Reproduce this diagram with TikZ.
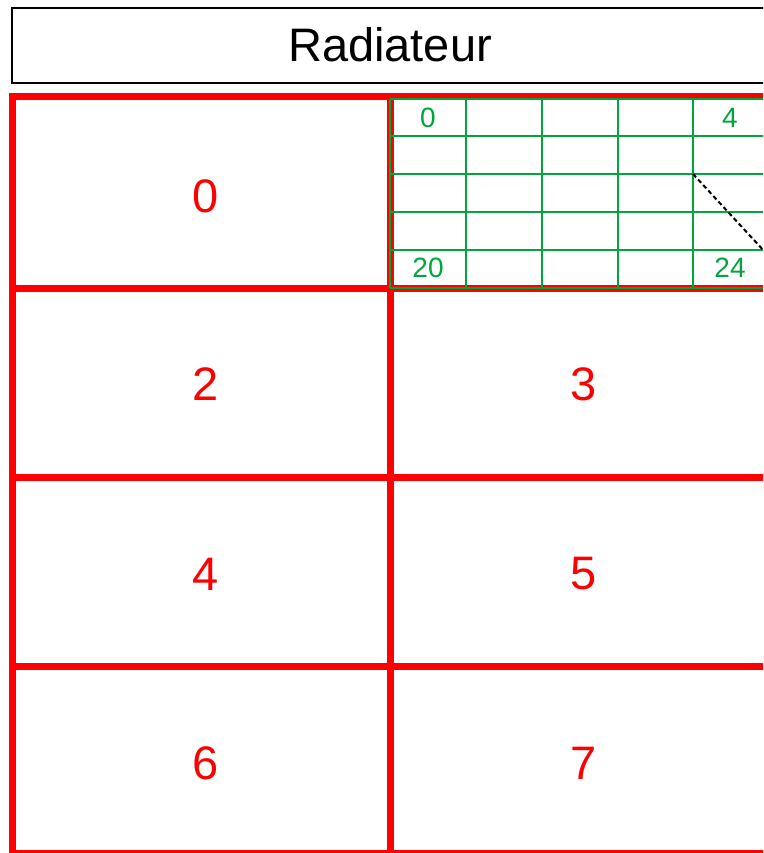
\documentclass[tikz,border=0pt]{standalone}
\usepackage{fontspec}
\setmainfont{Liberation Sans}
\definecolor{rred}{RGB}{255,0,0}
\definecolor{ggreen}{RGB}{0,166,60}
\tikzset{
  redline/.style={draw=rred, line width=7pt},
  greenline/.style={draw=ggreen, line width=2.4pt},
  bigred/.style={text=rred, inner sep=0pt, font=\fontsize{47}{50}\selectfont},
  smallgreen/.style={text=ggreen, inner sep=0pt, font=\fontsize{28}{30}\selectfont},
  titlebox/.style={draw=black, line width=2.2pt}
}
\begin{document}
\begin{tikzpicture}[x=1pt,y=-1pt]
\useasboundingbox (0,0) rectangle (763,853);
\fill[white] (0,0) rectangle (763,853);
\clip (0,0) rectangle (763,853);
% title
\draw[titlebox] (12,8) rectangle (768,83);
\node[inner sep=0pt, font=\fontsize{47}{50}\selectfont] (title) at (390,45) {Radiateur};
% red grid
\draw[redline] (12,97) rectangle (780,853);
\draw[redline] (390,97) -- (390,853);
\foreach \yy in {288,477,666} {\draw[redline] (12,\yy) -- (780,\yy);}
% green grid in top right cell
\foreach \xx in {390,466,542,618,693,769} {\draw[greenline] (\xx,99) -- (\xx,288);}
\foreach \yy in {99,136,174,212,250,288} {\draw[greenline] (390,\yy) -- (780,\yy);}
% dashed
\coordinate (dA) at (693,174);
\coordinate (dB) at (777,265);
\draw[black, line width=2pt, dash pattern=on 4.5pt off 3pt] (dA) -- (dB);
% labels
\node[smallgreen] (g0) at (428,118) {0};
\node[smallgreen] (g4) at (730,118) {4};
\node[smallgreen] (g20) at (428,268) {20};
\node[smallgreen] (g24) at (730,268) {24};
\node[bigred] (c0) at (206,196) {0};
\node[bigred] (c2) at (206,384) {2};
\node[bigred] (c3) at (584,384) {3};
\node[bigred] (c4) at (206,574) {4};
\node[bigred] (c5) at (584,574) {5};
\node[bigred] (c6) at (206,763) {6};
\node[bigred] (c7) at (584,763) {7};
\end{tikzpicture}
\end{document}
